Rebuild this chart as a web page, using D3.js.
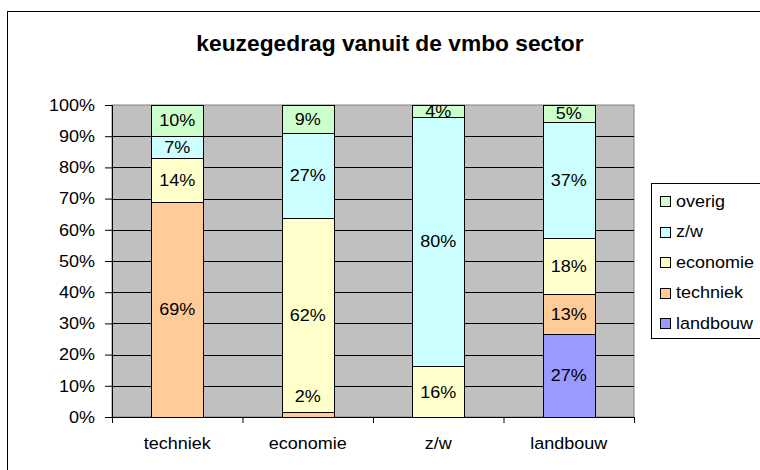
<!DOCTYPE html>
<html lang="nl">
<head>
  <meta charset="UTF-8">
  <title>keuzegedrag vanuit de vmbo sector</title>
  <script src="https://d3js.org/d3.v7.min.js"></script>
  <style>
    body { margin: 0; background: #fff; }
    svg { display: block; font-family: "Liberation Sans", Arial, sans-serif; }
  </style>
</head>
<body>
  <div id="vis"></div>

  <script>
    // vmbo-sector (x-as) en de gekozen richting (gestapelde reeksen, van onder naar boven)
    const sectors = ["techniek", "economie", "z/w", "landbouw"];
    const series = ["landbouw", "techniek", "economie", "z/w", "overig"];
    const colors = ["#9999ff", "#ffcc99", "#ffffcc", "#ccffff", "#ccffcc"];

    // percentages per sector, volgorde als in series
    const landbouwVals = [0, 0, 0, 26.6];
    const techniekVals = [69, 1.5, 0, 12.8];
    const economieVals = [14, 62.4, 16.2, 18];
    const zwVals = [7, 27.1, 80.1, 37.2];
    const overigVals = [10, 9, 3.7, 5.4];

    const yTicks = [0, 10, 20, 30, 40, 50, 60, 70, 80, 90, 100];

    const rows = sectors.map((s, i) => ({
      sector: s,
      "landbouw": landbouwVals[i],
      "techniek": techniekVals[i],
      "economie": economieVals[i],
      "z/w": zwVals[i],
      "overig": overigVals[i]
    }));

    const W = 760, H = 470;
    const margin = { top: 105, right: 126, bottom: 53, left: 112 };
    const width = W - margin.left - margin.right;
    const height = H - margin.top - margin.bottom;
    const stretch = 1.06;

    const svg = d3.select("#vis").append("svg")
      .attr("width", W)
      .attr("height", H);

    // kader rond de hele grafiek
    svg.append("rect")
      .attr("x", 7.5).attr("y", 11.5)
      .attr("width", W).attr("height", H)
      .attr("fill", "#fff")
      .attr("stroke", "#000");

    function label(parent, x, y, txt, size, anchor, weight) {
      parent.append("g")
        .attr("transform", `translate(${x},${y}) scale(${stretch},1)`)
        .append("text")
        .attr("text-anchor", anchor || "middle")
        .attr("dominant-baseline", "central")
        .style("font-size", size + "px")
        .style("font-weight", weight || "normal")
        .attr("fill", "#000")
        .text(txt);
    }

    label(svg, 390, 44, "keuzegedrag vanuit de vmbo sector", 21.5, "middle", "bold");

    const g = svg.append("g").attr("transform", `translate(${margin.left},${margin.top})`);

    const x = d3.scaleBand().domain(sectors).range([0, width]).paddingInner(0.6).paddingOuter(0.3);
    const xTick = d3.scaleBand().domain(sectors).range([0, width]);
    const y = d3.scaleLinear().domain([0, 100]).range([height, 0]);

    // plotgebied
    g.append("rect")
      .attr("width", width).attr("height", height)
      .attr("fill", "#c0c0c0")
      .attr("stroke", "#808080");

    g.append("g")
      .selectAll("line")
      .data(yTicks.slice(1, -1))
      .join("line")
      .attr("x1", 0).attr("x2", width)
      .attr("y1", d => Math.round(y(d)) + 0.5).attr("y2", d => Math.round(y(d)) + 0.5)
      .attr("stroke", "#000");

    // y-as
    const yAxis = g.append("g")
      .call(d3.axisLeft(y).tickValues(yTicks).tickSize(7).tickFormat(d => d + "%"));
    yAxis.select(".domain").attr("stroke", "#000");
    yAxis.selectAll("text").remove();
    yTicks.forEach(t => label(g, -17, y(t), t + "%", 17, "end"));

    // x-as met streepjes tussen de categorieën
    g.append("line")
      .attr("x1", 0).attr("x2", width)
      .attr("y1", height + 0.5).attr("y2", height + 0.5)
      .attr("stroke", "#000");
    g.append("g")
      .selectAll("line")
      .data(sectors.concat(["end"]))
      .join("line")
      .attr("x1", (d, i) => i < sectors.length ? xTick(d) + 0.5 : width + 0.5)
      .attr("x2", (d, i) => i < sectors.length ? xTick(d) + 0.5 : width + 0.5)
      .attr("y1", height).attr("y2", height + 6)
      .attr("stroke", "#000");
    sectors.forEach(s => label(g, xTick(s) + xTick.bandwidth() / 2, height + 26, s, 17));

    // gestapelde staven
    const stacked = d3.stack().keys(series)(rows);
    stacked.forEach((layer, li) => {
      g.append("g")
        .selectAll("rect")
        .data(layer.filter(d => d[1] - d[0] > 0))
        .join("rect")
        .attr("x", d => Math.round(x(d.data.sector)) + 0.5)
        .attr("width", Math.round(x.bandwidth()))
        .attr("y", d => Math.round(y(d[1])) + 0.5)
        .attr("height", d => Math.round(y(d[0])) - Math.round(y(d[1])))
        .attr("fill", colors[li])
        .attr("stroke", "#000");
    });
    stacked.forEach(layer => {
      layer.forEach(d => {
        const v = d[1] - d[0];
        if (v <= 0) return;
        const cy = v < 3 ? y(d[1]) - 16 : (y(d[0]) + y(d[1])) / 2;
        label(g, x(d.data.sector) + x.bandwidth() / 2, cy, Math.round(v) + "%", 17);
      });
    });

    // legenda
    const leg = svg.append("g").attr("transform", "translate(651,183)");
    leg.append("rect")
      .attr("x", 0.5).attr("y", 0.5)
      .attr("width", 130).attr("height", 155)
      .attr("fill", "#fff")
      .attr("stroke", "#000");
    series.slice().reverse().forEach((s, i) => {
      const cy = 18 + i * 30.5;
      leg.append("rect")
        .attr("x", 9.5).attr("y", Math.round(cy - 5) + 0.5)
        .attr("width", 10).attr("height", 10)
        .attr("fill", colors[series.length - 1 - i])
        .attr("stroke", "#000");
      label(leg, 25, cy, s, 17, "start");
    });
  </script>
</body>
</html>
